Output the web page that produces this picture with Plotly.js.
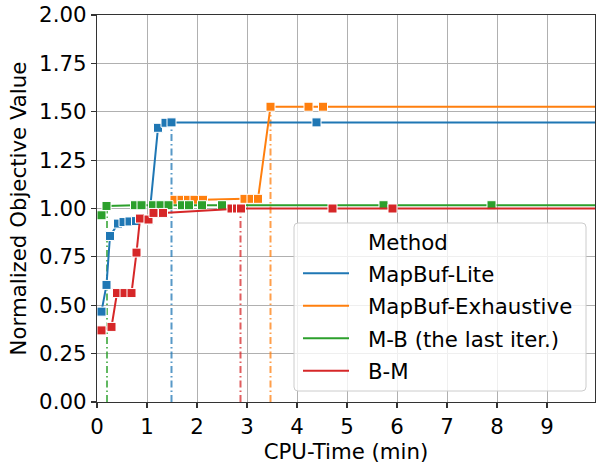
<!DOCTYPE html>
<html>
<head>
<meta charset="utf-8">
<script src="https://cdn.plot.ly/plotly-3.0.1.min.js"></script>
<style>html,body{margin:0;padding:0;background:#fff;}#chart{width:602px;height:464px;}</style>
</head>
<body>
<div id="chart"></div>
<script>
// ---- data ----
const seriesNames = ["MapBuf-Lite", "MapBuf-Exhaustive", "M-B (the last iter.)", "B-M"];
const seriesColors = ["#1f77b4", "#ff7f0e", "#2ca02c", "#d62728"];

const liteTime  = [0.09, 0.19, 0.26, 0.42, 0.53, 0.65, 0.78, 1.04, 1.22, 1.37, 1.49, 4.39];
const liteValue = [0.467, 0.605, 0.858, 0.922, 0.930, 0.933, 0.935, 0.940, 1.417, 1.443, 1.445, 1.445];

const exhTime  = [1.12, 1.55, 1.69, 1.82, 1.95, 2.12, 2.95, 3.09, 3.22, 3.47, 4.23, 4.52];
const exhValue = [0.985, 1.045, 1.045, 1.045, 1.045, 1.045, 1.050, 1.050, 1.050, 1.526, 1.526, 1.526];

const mbTime  = [0.09, 0.19, 0.76, 0.89, 1.12, 1.27, 1.43, 1.70, 1.84, 2.10, 2.50, 5.73, 7.89];
const mbValue = [0.965, 1.013, 1.017, 1.017, 1.017, 1.017, 1.017, 1.017, 1.017, 1.017, 1.017, 1.017, 1.017];

const bmTime  = [0.09, 0.29, 0.40, 0.55, 0.69, 0.79, 0.86, 1.03, 1.13, 1.32, 2.69, 2.80, 2.88, 4.71, 5.91];
const bmValue = [0.370, 0.388, 0.563, 0.563, 0.563, 0.772, 0.948, 0.943, 0.977, 0.977, 1.000, 1.000, 1.000, 1.000, 1.000];

// time at which each method reaches its final value, and that value
const convTime  = [1.49, 3.47, 0.20, 2.87];
const convValue = [1.445, 1.526, 1.013, 1.000];

const xTicks = [0, 1, 2, 3, 4, 5, 6, 7, 8, 9];
const yTicks = [0, 0.25, 0.5, 0.75, 1.0, 1.25, 1.5, 1.75, 2.0];
const xMax = 9.96;
// ---- end data ----

const allTimes = [liteTime, exhTime, mbTime, bmTime];
const allValues = [liteValue, exhValue, mbValue, bmValue];

const FONT = "DejaVu Sans";
const traces = [];
// convergence vertical lines (behind)
for (let i = 0; i < 4; i++) {
  traces.push({
    x: [convTime[i], convTime[i]], y: [0, convValue[i]],
    mode: "lines", type: "scatter", showlegend: false, hoverinfo: "skip",
    opacity: 0.75,
    line: {color: seriesColors[i], width: 2, dash: "7px,3px,1.5px,3px"}
  });
}
for (let i = 0; i < 4; i++) {
  const t = allTimes[i], v = allValues[i];
  // line extended to the right edge at the last value
  traces.push({
    x: t.concat([xMax + 1]), y: v.concat([v[v.length - 1]]),
    mode: "lines", type: "scatter", showlegend: false, hoverinfo: "skip",
    line: {color: seriesColors[i], width: 2}
  });
  traces.push({
    x: t, y: v, name: seriesNames[i],
    mode: "markers", type: "scatter", showlegend: false,
    marker: {symbol: "square", size: 9, color: seriesColors[i], line: {color: "#ffffff", width: 1}}
  });
}

// manual legend, in pixel positions converted to paper coordinates
const L = 97, R = 7, T = 15, B = 62, W = 602, HH = 464;
const pw = W - L - R, ph = HH - T - B;
const px = p => (p - L) / pw;
const py = p => (HH - B - p) / ph;

const bx0 = 294, bx1 = 586, by0 = 223, by1 = 391, rr = 4;
const boxPath =
  `M ${px(bx0 + rr)},${py(by0)} L ${px(bx1 - rr)},${py(by0)} Q ${px(bx1)},${py(by0)} ${px(bx1)},${py(by0 + rr)} ` +
  `L ${px(bx1)},${py(by1 - rr)} Q ${px(bx1)},${py(by1)} ${px(bx1 - rr)},${py(by1)} ` +
  `L ${px(bx0 + rr)},${py(by1)} Q ${px(bx0)},${py(by1)} ${px(bx0)},${py(by1 - rr)} ` +
  `L ${px(bx0)},${py(by0 + rr)} Q ${px(bx0)},${py(by0)} ${px(bx0 + rr)},${py(by0)} Z`;

const shapes = [{
  type: "path", xref: "paper", yref: "paper", path: boxPath, layer: "above",
  fillcolor: "rgba(255,255,255,0.8)", line: {color: "#cccccc", width: 1}
}];
const annotations = [{
  xref: "paper", yref: "paper", x: px(366), y: py(242), xanchor: "left", yanchor: "middle",
  text: "Method", showarrow: false, font: {family: FONT, size: 21.3, color: "#000"}
}];
const rowY = [273.3, 305.7, 338.3, 370.7];
for (let i = 0; i < 4; i++) {
  shapes.push({
    type: "line", xref: "paper", yref: "paper", layer: "above",
    x0: px(303), x1: px(349), y0: py(rowY[i]), y1: py(rowY[i]),
    line: {color: seriesColors[i], width: 2}
  });
  annotations.push({
    xref: "paper", yref: "paper", x: px(366), y: py(rowY[i] + 1), xanchor: "left", yanchor: "middle",
    text: seriesNames[i], showarrow: false, font: {family: FONT, size: 21.3, color: "#000"}
  });
}

const axisCommon = {
  showgrid: true, gridcolor: "#b0b0b0", gridwidth: 1, zeroline: false,
  showline: true, linecolor: "#333333", linewidth: 1.2, mirror: true,
  ticks: "outside", ticklen: 5, tickwidth: 1.2, tickcolor: "#333333",
  tickfont: {family: FONT, size: 21.3, color: "#000"}, automargin: false
};

const layout = {
  width: W, height: HH,
  margin: {l: L, r: R, t: T, b: B},
  paper_bgcolor: "#ffffff", plot_bgcolor: "#ffffff",
  font: {family: FONT, size: 21.3, color: "#000"},
  showlegend: false,
  xaxis: Object.assign({}, axisCommon, {
    range: [0, xMax], tickvals: xTicks, ticktext: xTicks.map(String),
    title: {text: "CPU-Time (min)", font: {family: FONT, size: 21.3, color: "#000"}, standoff: 2}
  }),
  yaxis: Object.assign({}, axisCommon, {
    range: [0, 2], tickvals: yTicks, ticktext: yTicks.map(v => v.toFixed(2)),
    title: {text: "Normalized Objective Value", font: {family: FONT, size: 21.3, color: "#000"}, standoff: 6}
  }),
  shapes: shapes, annotations: annotations
};

Plotly.newPlot("chart", traces, layout, {displayModeBar: false, staticPlot: true});
</script>
</body>
</html>
